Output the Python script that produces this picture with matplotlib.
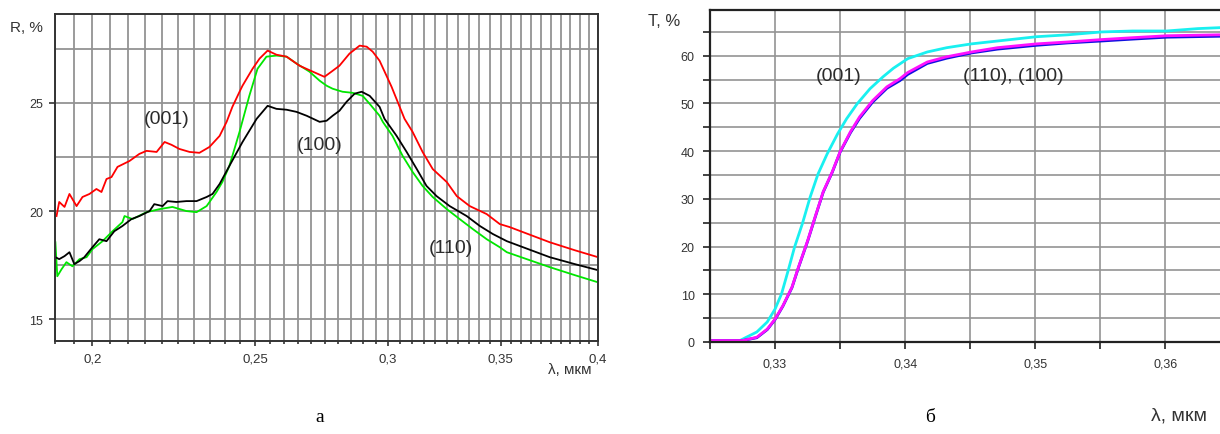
import numpy as np
import matplotlib
matplotlib.use("Agg")
from matplotlib import pyplot as plt
from matplotlib.ticker import FixedLocator, MultipleLocator, NullFormatter, FuncFormatter

plt.rcParams['font.family'] = ['Liberation Sans', 'DejaVu Sans']

# panel a: reflectance R(%) vs wavelength (um)
lam_001 = [0.1904, 0.1911, 0.1925, 0.1938, 0.1957, 0.1973, 0.1992, 0.2011, 0.2025, 0.2039,
           0.2053, 0.2070, 0.2104, 0.2133, 0.2154, 0.2184, 0.2208, 0.2229, 0.2253, 0.2285,
           0.2316, 0.2348, 0.2381, 0.2404, 0.2423, 0.2447, 0.2457, 0.2491, 0.2515, 0.2543,
           0.2574, 0.2610, 0.2657, 0.2705, 0.2749, 0.2776, 0.2806, 0.2845, 0.2885, 0.2913,
           0.2937, 0.2965, 0.3014, 0.3068, 0.3102, 0.3145, 0.3189, 0.3251, 0.3296, 0.3355,
           0.3434, 0.3496, 0.3544, 0.3744, 0.3875, 0.4000]
r_001 = [19.77, 20.42, 20.19, 20.79, 20.23, 20.65, 20.79, 21.02, 20.88, 21.48,
         21.57, 22.04, 22.31, 22.64, 22.78, 22.73, 23.19, 23.06, 22.87, 22.73,
         22.69, 22.96, 23.47, 24.12, 24.81, 25.51, 25.79, 26.57, 27.04, 27.41,
         27.22, 27.13, 26.71, 26.44, 26.20, 26.44, 26.71, 27.27, 27.64, 27.59,
         27.36, 26.94, 25.74, 24.26, 23.66, 22.73, 21.94, 21.34, 20.69, 20.23,
         19.86, 19.40, 19.26, 18.56, 18.19, 17.87]

lam_110 = [0.1901, 0.1906, 0.1917, 0.1930, 0.1946, 0.1965, 0.1984, 0.2000, 0.2028, 0.2056,
           0.2084, 0.2090, 0.2113, 0.2154, 0.2193, 0.2232, 0.2275, 0.2307, 0.2339, 0.2371,
           0.2390, 0.2413, 0.2447, 0.2480, 0.2508, 0.2539, 0.2574, 0.2610, 0.2646, 0.2693,
           0.2731, 0.2757, 0.2780, 0.2818, 0.2857, 0.2897, 0.2925, 0.2965, 0.2978, 0.3018,
           0.3060, 0.3102, 0.3145, 0.3189, 0.3251, 0.3309, 0.3369, 0.3434, 0.3496, 0.3530,
           0.3744, 0.3875, 0.4000]
r_110 = [18.56, 16.99, 17.31, 17.64, 17.45, 17.78, 17.87, 18.24, 18.61, 19.07,
         19.49, 19.77, 19.63, 19.95, 20.09, 20.19, 20.00, 19.95, 20.23, 20.88,
         21.34, 22.08, 23.66, 25.32, 26.57, 27.13, 27.18, 27.13, 26.81, 26.44,
         26.02, 25.79, 25.65, 25.51, 25.46, 25.32, 24.95, 24.40, 24.12, 23.47,
         22.55, 21.81, 21.16, 20.65, 20.09, 19.63, 19.17, 18.70, 18.33, 18.10,
         17.41, 17.04, 16.71]

lam_100 = [0.1901, 0.1911, 0.1925, 0.1938, 0.1951, 0.1965, 0.1978, 0.2000, 0.2019, 0.2039,
           0.2061, 0.2084, 0.2110, 0.2133, 0.2163, 0.2177, 0.2202, 0.2217, 0.2244, 0.2275,
           0.2307, 0.2339, 0.2358, 0.2381, 0.2413, 0.2457, 0.2505, 0.2543, 0.2574, 0.2610,
           0.2646, 0.2683, 0.2731, 0.2757, 0.2780, 0.2806, 0.2834, 0.2865, 0.2893, 0.2925,
           0.2965, 0.2985, 0.3035, 0.3077, 0.3120, 0.3162, 0.3206, 0.3264, 0.3341, 0.3402,
           0.3463, 0.3530, 0.3744, 0.3875, 0.4000]
r_100 = [17.87, 17.78, 17.92, 18.10, 17.55, 17.69, 17.87, 18.33, 18.70, 18.61,
         19.07, 19.31, 19.63, 19.77, 20.00, 20.32, 20.23, 20.46, 20.42, 20.46,
         20.46, 20.65, 20.79, 21.25, 22.08, 23.19, 24.26, 24.86, 24.72, 24.68,
         24.58, 24.40, 24.12, 24.17, 24.40, 24.63, 25.05, 25.42, 25.51, 25.32,
         24.81, 24.26, 23.47, 22.73, 21.94, 21.16, 20.69, 20.23, 19.77, 19.31,
         18.94, 18.61, 17.87, 17.55, 17.27]

# panel b: transmittance T(%) vs wavelength (um)
lam_t001 = [0.3250, 0.3273, 0.3278, 0.3286, 0.3294, 0.3300, 0.3305, 0.3310, 0.3315, 0.3321,
            0.3327, 0.3333, 0.3340, 0.3348, 0.3355, 0.3363, 0.3373, 0.3383, 0.3391, 0.3402,
            0.3417, 0.3432, 0.3451, 0.3471, 0.3501, 0.3525, 0.3551, 0.3575, 0.3601, 0.3625,
            0.3642]
t_001 = [0.3, 0.3, 1.0, 2.1, 4.2, 6.9, 10.1, 14.9, 19.9, 24.8,
         30.4, 35.2, 39.4, 43.6, 46.8, 49.9, 53.1, 55.6, 57.4, 59.4,
         60.8, 61.7, 62.5, 63.1, 64.0, 64.4, 65.0, 65.2, 65.2, 65.7,
         65.9]

lam_t110 = [0.3250, 0.3275, 0.3286, 0.3294, 0.3300, 0.3306, 0.3313, 0.3318, 0.3325, 0.3331,
            0.3337, 0.3344, 0.3350, 0.3358, 0.3365, 0.3375, 0.3386, 0.3396, 0.3402, 0.3417,
            0.3432, 0.3451, 0.3471, 0.3501, 0.3525, 0.3551, 0.3575, 0.3601, 0.3642]
t_110 = [0.3, 0.3, 1.0, 2.7, 4.8, 7.6, 11.5, 15.7, 21.2, 26.4,
         31.5, 35.7, 39.9, 44.1, 47.2, 50.6, 53.5, 55.2, 56.5, 58.7,
         59.8, 60.8, 61.7, 62.5, 62.9, 63.4, 63.8, 64.2, 64.4]
t_100 = [0.3, 0.3, 0.9, 2.6, 4.7, 7.5, 11.4, 15.6, 21.1, 26.3,
         31.4, 35.6, 39.8, 43.9, 46.9, 50.3, 53.2, 54.8, 56.1, 58.4,
         59.5, 60.6, 61.4, 62.2, 62.7, 63.1, 63.5, 63.9, 64.1]

comma = FuncFormatter(lambda v, p: ('%g' % v).replace('.', ','))
grid_c = '#939393'
lab_c = '#333333'

fig = plt.figure(figsize=(12.2, 4.35), dpi=100)

# ---- panel a
ax1 = fig.add_axes([55 / 1220, 93 / 435, 543 / 1220, 327 / 435])
ax1.plot(lam_110, r_110, color='#00e600', lw=1.3)
ax1.plot(lam_100, r_100, color='black', lw=1.3)
ax1.plot(lam_001, r_001, color='#ff0000', lw=1.3)
ax1.set_xscale('log')
ax1.set_xlim(0.19, 0.4)
ax1.set_ylim(14, 29.1)
ax1.xaxis.set_major_locator(FixedLocator([0.2, 0.25, 0.3, 0.35, 0.4]))
ax1.xaxis.set_major_formatter(comma)
ax1.xaxis.set_minor_locator(MultipleLocator(0.005))
ax1.xaxis.set_minor_formatter(NullFormatter())
ax1.yaxis.set_major_locator(MultipleLocator(5))
ax1.yaxis.set_minor_locator(MultipleLocator(2.5))
ax1.grid(True, which='both', color=grid_c, lw=1.3)
ax1.set_axisbelow(True)
ax1.tick_params(axis='x', which='major', labelsize=9.5, length=3.5, width=1.2,
                color='#333333', labelcolor=lab_c, pad=5)
ax1.tick_params(axis='x', which='minor', length=2, width=1.2, color='#333333')
ax1.tick_params(axis='y', which='major', labelsize=9, length=4.5, width=1.2,
                color='#333333', labelcolor=lab_c, pad=4)
ax1.tick_params(axis='y', which='minor', length=0)
for s in ax1.spines.values():
    s.set_color('#333333')
    s.set_linewidth(1.4)
ax1.text(0.2214, 24.26, '(001)', fontsize=14, color='#2b2b2b', ha='center', va='center')
ax1.text(0.2731, 23.06, '(100)', fontsize=14, color='#2b2b2b', ha='center', va='center')
ax1.text(0.3268, 18.33, '(110)', fontsize=14, color='#2b2b2b', ha='center', va='center')
fig.text(10 / 1220, 1 - 28 / 435, 'R, %', fontsize=11, va='center', ha='left', color=lab_c)
fig.text(570 / 1220, 1 - 370 / 435, 'λ, мкм', fontsize=11, va='center', ha='center', color=lab_c)

# ---- panel b
ax2 = fig.add_axes([710 / 1220, 92 / 435, 510 / 1220, 332 / 435])
ax2.plot(lam_t001, t_001, color='#19f0f0', lw=2)
ax2.plot(lam_t110, t_100, color='#1010e0', lw=2)
ax2.plot(lam_t110, t_110, color='#ff10ff', lw=2)
ax2.set_xlim(0.325, 0.3642)
ax2.set_ylim(0, 69.6)
ax2.xaxis.set_major_locator(FixedLocator([0.33, 0.34, 0.35, 0.36]))
ax2.xaxis.set_major_formatter(comma)
ax2.xaxis.set_minor_locator(MultipleLocator(0.005))
ax2.xaxis.set_minor_formatter(NullFormatter())
ax2.yaxis.set_major_locator(MultipleLocator(10))
ax2.yaxis.set_minor_locator(MultipleLocator(5))
ax2.grid(True, which='both', color=grid_c, lw=1.2)
ax2.set_axisbelow(True)
ax2.tick_params(which='both', labelsize=9, length=5, width=1.2, color='#222222',
                labelcolor=lab_c, pad=6)
ax2.spines['right'].set_visible(False)
for k in ['left', 'bottom', 'top']:
    ax2.spines[k].set_color('#222222')
    ax2.spines[k].set_linewidth(1.6)
ax2.text(0.33485, 55.8, '(001)', fontsize=14, color='#2b2b2b', ha='center', va='center')
ax2.text(0.3483, 55.8, '(110), (100)', fontsize=14, color='#2b2b2b', ha='center', va='center')
fig.text(648 / 1220, 1 - 22 / 435, 'T, %', fontsize=12, va='center', ha='left', color=lab_c)
fig.text(1179 / 1220, 1 - 416 / 435, 'λ, мкм', fontsize=14, va='center', ha='center', color=lab_c)

fig.text(320 / 1220, 1 - 418 / 435, 'а', fontsize=14, family='Liberation Serif', ha='center', va='center')
fig.text(930 / 1220, 1 - 418 / 435, 'б', fontsize=14, family='Liberation Serif', ha='center', va='center')

fig.savefig('out.png', dpi=100)
